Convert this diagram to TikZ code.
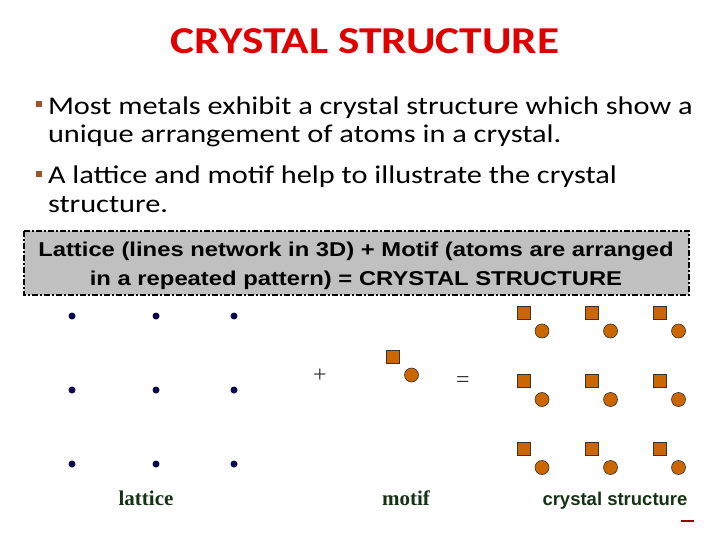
\documentclass[tikz,border=0pt]{standalone}
\usepackage{graphicx}
\usepackage{fontspec}
\setmainfont{Carlito}
\newfontfamily\arialfont{Liberation Sans}
\newfontfamily\timesfont{Liberation Serif}
\usetikzlibrary{positioning,calc}
\definecolor{titlered}{HTML}{E00000}
\definecolor{bulletbrown}{HTML}{A0522D}
\definecolor{boxgray}{HTML}{C0C0C0}
\definecolor{dotnavy}{HTML}{0A0A50}
\definecolor{atomorange}{HTML}{CC6600}
\definecolor{labelgreen}{HTML}{143214}
% slide text is set a little wide
\newcommand{\wide}[1]{\scalebox{1.19}[1]{#1}}

\begin{document}
\begin{tikzpicture}[x=1pt,y=-1pt,
 every node/.style={inner sep=0pt,outer sep=0pt},
 bullet/.style={fill=bulletbrown,minimum size=5.5pt},
 bodytext/.style={anchor=base west,font=\fontsize{25.5}{28}\selectfont},
 boxtext/.style={anchor=base,font=\arialfont\bfseries\fontsize{20}{24}\selectfont},
 dot/.style={circle,fill=dotnavy,minimum size=7pt},
 sqatom/.style={draw=black!80,fill=atomorange,minimum size=13pt,line width=0.6pt},
 ratom/.style={circle,draw=black!80,fill=atomorange,minimum size=14pt,line width=0.6pt},
 sign/.style={font=\timesfont\fontsize{24}{26}\selectfont,text=black!80},
 caption/.style={text=labelgreen,anchor=base}]
\useasboundingbox (0,0) rectangle (720,540);

% title
\node[anchor=base,text=titlered,font=\fontsize{38}{40}\bfseries\selectfont] (title) at (365,54) {\wide{CRYSTAL STRUCTURE}};

% bullets
\node[bullet] (b1) at (39,104) {};
\node[bodytext] (t1) at (48,115) {\wide{Most metals exhibit a crystal structure which show a}};
\node[bodytext] (t1b) at (48,143) {\wide{unique arrangement of atoms in a crystal.}};
\node[bullet] (b2) at (39,174) {};
\node[bodytext] (t2) at (48,184) {\wide{A lattice and motif help to illustrate the crystal}};
\node[bodytext] (t2b) at (48,212) {\wide{structure.}};

% equation box
\draw[fill=boxgray,line width=2.2pt,dash pattern=on 6pt off 2pt on 2pt off 2pt] (24,231) rectangle (689,295);
\node[boxtext] (eqn1) at (356,256) {\wide{Lattice (lines network in 3D) + Motif (atoms are arranged}};
\node[boxtext] (eqn2) at (356,285) {\wide{in a repeated pattern) = CRYSTAL STRUCTURE}};

% lattice
\foreach \i/\x in {1/72,2/156,3/234}
 \foreach \j/\y in {1/316,2/390,3/464}
  \node[dot] (l\i\j) at (\x,\y) {};

\node[sign] (plus) at (320,376) {+};

% motif
\node[sqatom] (msq) at (393,356.5) {};
\node[ratom] (mat) at (411.5,375) {};

\node[sign] (eq) at (463,382) {=};

% crystal
\foreach \i/\x in {1/523.5,2/592,3/660}
 \foreach \j/\y in {1/312.5,2/381,3/449}{
  \node[sqatom] (c\i\j) at (\x,\y) {};
  \node[ratom] (a\i\j) at ($(\x,\y)+(18.5,18.5)$) {};
 }

% captions
\node[caption,font=\timesfont\bfseries\fontsize{21}{24}\selectfont] (latcap) at (146,505) {lattice};
\node[caption,font=\timesfont\bfseries\fontsize{21}{24}\selectfont] (motcap) at (406,505) {motif};
\node[caption,font=\arialfont\bfseries\fontsize{18.5}{22}\selectfont] (cryscap) at (615,505) {crystal structure};

\draw[titlered!70!black,line width=1.5pt] (681,521) -- (694,521);
\end{tikzpicture}
\end{document}
